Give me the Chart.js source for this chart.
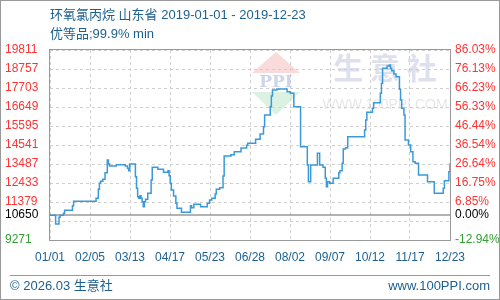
<!DOCTYPE html>
<html>
<head>
<meta charset="utf-8">
<script src="https://cdn.jsdelivr.net/npm/chart.js@4.4.1/dist/chart.umd.min.js"></script>
<style>
  body { margin: 0; background: #fff; }
  #wrap { position: relative; width: 500px; height: 300px; overflow: hidden; font-family: 'Liberation Sans', Arial, 'Noto Sans CJK SC', sans-serif; color: #1d5f8e; }
  #wrap canvas { position: absolute; left: 0; top: 0; }
  .txt { position: absolute; font-size: 13px; line-height: 18px; white-space: nowrap; }
  #edge { position: absolute; left: 0; top: 0; width: 500px; height: 300px; box-sizing: border-box; border: 1px solid #999; pointer-events: none; }
  #rule { position: absolute; left: 10px; top: 275px; width: 480px; height: 1px; background: #999; }
</style>
</head>
<body>
<div id="wrap">
  <canvas id="chart" width="500" height="300"></canvas>
  <div class="txt" style="left:50px;top:6px">环氧氯丙烷 山东省 2019-01-01 - 2019-12-23</div>
  <div class="txt" style="left:50px;top:25px">优等品;99.9% min</div>
  <div id="rule"></div>
  <div class="txt" style="left:10px;top:277px">© 2026.03 生意社</div>
  <div class="txt" style="right:10px;top:277px">www.100PPI.com</div>
  <div id="edge"></div>
</div>
<script>
// 环氧氯丙烷 山东省 daily price, day offset from 2019-01-01
const days = [0, 5, 8, 9, 12, 13, 20, 21, 41, 43, 44, 45, 47, 49, 51, 52, 53, 59, 67, 69,
  70, 71, 76, 77, 78, 79, 80, 81, 82, 83, 84, 85, 87, 90, 91, 96, 101, 105, 106, 107,
  108, 110, 112, 113, 117, 125, 126, 128, 134, 140, 142, 144, 147, 148, 151, 154, 155, 161, 164, 170,
  175, 176, 183, 187, 190, 191, 196, 197, 198, 202, 211, 214, 217, 223, 229, 230, 232, 238, 240, 243,
  245, 246, 247, 249, 252, 257, 258, 260, 261, 263, 265, 280, 281, 282, 287, 288, 294, 295, 296, 300,
  302, 303, 304, 306, 308, 311, 312, 313, 315, 316, 319, 321, 323, 325, 328, 336, 342, 350, 351, 355, 356];
const prices = [10650, 10159, 10530, 10650, 10752, 10919, 11174, 11418, 11584, 12083, 12416, 12527, 12638, 13004, 13709, 13487, 13376, 13448, 13376, 13248,
  13115, 13487, 12782, 12139, 11673, 11584, 11728, 11584, 11396, 11118, 11396, 11529, 11862, 12599, 13304, 13193, 13026, 13115, 12838, 12416,
  12045, 11712, 11307, 11029, 10808, 11174, 11063, 11251, 11118, 11307, 11490, 11584, 11823, 12083, 12172, 12821, 13931, 14003, 14169, 14374,
  14524, 14635, 14857, 15151, 15556, 16205, 16665, 17259, 17592, 17647, 17497, 17409, 16665, 14447, 13431, 12505, 13431, 14080, 13431, 13304,
  12694, 12228, 12505, 12416, 12694, 13004, 13115, 13526, 14319, 14391, 15001, 15373, 15928, 16355, 16577, 16887, 17409, 17963, 18795, 18923,
  18979, 18795, 18662, 18479, 18330, 17631, 17037, 16577, 16205, 14818, 14541, 14169, 13614, 13526, 12877, 12505, 11862, 12139, 12561, 13060, 13526];

const xLabels = ['01/01', '02/05', '03/13', '04/17', '05/23', '06/28', '08/02', '09/07', '10/12', '11/17', '12/23'];
const totalDays = 356;
const baseValue = 10650;
const yTicks = [9271, 10325, 10650, 11379, 12433, 13487, 14541, 15595, 16649, 17703, 18757, 19811];
const leftLabels = ['9271', '', '10650', '11379', '12433', '13487', '14541', '15595', '16649', '17703', '18757', '19811'];
const rightLabels = ['-12.94%', '', '0.00%', '6.85%', '16.75%', '26.64%', '36.54%', '46.44%', '56.33%', '66.23%', '76.13%', '86.03%'];

const tickColor = (ctx) => {
  const v = ctx.tick.value;
  if (v === baseValue) return '#000';
  if (v < baseValue) return '#33a033';
  return '#ff3333';
};
const setYTicks = (scale) => { scale.ticks = yTicks.map(v => ({ value: v })); };

const watermark = {
  id: 'watermark',
  beforeDatasetsDraw(chart) {
    const c = chart.ctx;
    c.save();
    c.fillStyle = 'rgba(245,190,190,0.55)';
    c.beginPath(); c.moveTo(276, 52); c.lineTo(300, 73); c.lineTo(252, 73); c.closePath(); c.fill();
    c.fillStyle = 'rgba(190,230,200,0.55)';
    c.beginPath(); c.moveTo(252, 92); c.lineTo(300, 92); c.lineTo(276, 115); c.closePath(); c.fill();
    c.fillStyle = 'rgba(185,195,225,0.7)';
    c.font = 'bold 17px "DejaVu Serif", serif';
    c.textAlign = 'center'; c.textBaseline = 'middle';
    c.fillText('PPI', 276, 83);
    c.fillStyle = 'rgba(200,205,225,0.6)';
    c.font = 'bold 30px "Noto Sans CJK SC", sans-serif';
    c.fillText('生 意 社', 385, 68);
    c.fillStyle = 'rgba(215,215,220,0.6)';
    c.font = '14px "Liberation Sans", Arial, sans-serif';
    c.fillText('WWW.100PPI.COM', 385, 105);
    c.restore();
  }
};

const frame = {
  id: 'frame',
  beforeDatasetsDraw(chart) {
    const c = chart.ctx, a = chart.chartArea;
    const yb = Math.round(chart.scales.y.getPixelForValue(baseValue));
    c.save();
    c.strokeStyle = '#999';
    c.lineWidth = 1;
    c.strokeRect(a.left - 0.5, a.top - 0.5, a.right - a.left + 1, a.bottom - a.top + 1);
    c.lineWidth = 1.5;
    c.beginPath(); c.moveTo(a.left, yb); c.lineTo(a.right, yb); c.stroke();
    c.restore();
  }
};

new Chart(document.getElementById('chart'), {
  type: 'line',
  data: {
    datasets: [{
      data: days.map((d, i) => ({ x: d, y: prices[i] })),
      borderColor: '#3a9ad9', borderWidth: 1.5, pointRadius: 0, stepped: true, fill: false
    }]
  },
  options: {
    responsive: false, animation: false,
    layout: { padding: { left: 5, right: 0, top: 50, bottom: 0 } },
    plugins: { legend: { display: false }, tooltip: { enabled: false } },
    scales: {
      x: {
        type: 'linear', min: 0, max: totalDays,
        afterBuildTicks: (s) => { s.ticks = xLabels.map((l, i) => ({ value: i * totalDays / 10 })); },
        afterFit: (s) => { s.height = 60; },
        ticks: { autoSkip: false, maxRotation: 0, padding: 10, color: '#1d5f8e', font: { size: 12, family: "'Liberation Sans', Arial" }, callback: (v, i) => xLabels[i] },
        grid: { color: '#cfcfcf', drawTicks: false },
        border: { display: false, dash: [3, 3] }
      },
      y: {
        position: 'left', min: yTicks[0], max: yTicks[yTicks.length - 1],
        afterBuildTicks: setYTicks,
        afterFit: (s) => { s.width = 45; },
        ticks: { autoSkip: false, crossAlign: 'far', color: tickColor, font: { size: 12, family: "'Liberation Sans', Arial" }, callback: (v, i) => leftLabels[i] },
        grid: { color: (ctx) => ctx.tick && ctx.tick.value === baseValue ? 'rgba(0,0,0,0)' : '#cfcfcf', drawTicks: false },
        border: { display: false, dash: [3, 3] }
      },
      y2: {
        position: 'right', min: yTicks[0], max: yTicks[yTicks.length - 1],
        afterBuildTicks: setYTicks,
        afterFit: (s) => { s.width = 50; },
        ticks: { autoSkip: false, padding: 5, color: tickColor, font: { size: 12, family: "'Liberation Sans', Arial" }, callback: (v, i) => rightLabels[i] },
        grid: { display: false, drawTicks: false },
        border: { display: false }
      }
    }
  },
  plugins: [watermark, frame]
});
</script>
</body>
</html>
